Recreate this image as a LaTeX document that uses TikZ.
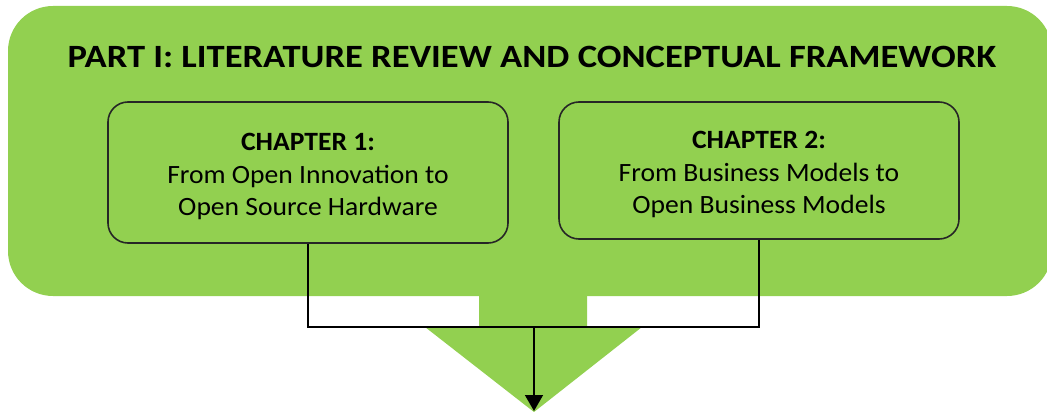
\documentclass[tikz,border=0pt]{standalone}
\usepackage{fontspec}
\setmainfont{Carlito}
\newfontfamily\titlefont[FakeStretch=1.125]{Carlito}
\newfontfamily\chapfont[FakeStretch=1.045]{Carlito}
\usetikzlibrary{arrows.meta}
\definecolor{lgreen}{HTML}{92D050}
\tikzset{
  chapbox/.style={draw=black!85, line width=1.6pt, rounded corners=20pt, fill=lgreen,
    minimum width=400pt, align=center, inner sep=0pt,
    font=\chapfont\fontsize{26.4}{32.5}\selectfont},
  conn/.style={draw=black, line width=1.6pt},
  titletext/.style={font=\titlefont\bfseries\fontsize{32.5}{38}\selectfont}
}
\newcommand{\topstrut}{\rule{0pt}{26pt}}
\begin{document}
\begin{tikzpicture}[x=1pt,y=-1pt]
\useasboundingbox (0,0) rectangle (1047,412);
\clip (0,0) rectangle (1047,412);
% big panel
\fill[lgreen, rounded corners=45pt] (8,6) rectangle (1052,296);
% arrow shape
\fill[lgreen] (479,290) -- (587,290) -- (587,327) -- (642,327) -- (534,412) -- (425,327) -- (479,327) -- cycle;
% title
\node[titletext] (title) at (532,57) {PART I: LITERATURE REVIEW AND CONCEPTUAL FRAMEWORK};
% chapters
\node[chapbox, minimum height=141pt] (ch1) at (308,172.5) {\topstrut\textbf{CHAPTER 1:}\\From Open Innovation to\\Open Source Hardware};
\node[chapbox, minimum height=137pt] (ch2) at (759,170.5) {\topstrut\textbf{CHAPTER 2:}\\From Business Models to\\Open Business Models};
% connectors
\coordinate (join) at (534,327);
\coordinate (tip) at (534,411);
\draw[conn] (ch1.south) |- (join);
\draw[conn] (ch2.south) |- (join);
\draw[conn, -{Triangle[length=16pt,width=18pt]}] (join) -- (tip);
\end{tikzpicture}
\end{document}
